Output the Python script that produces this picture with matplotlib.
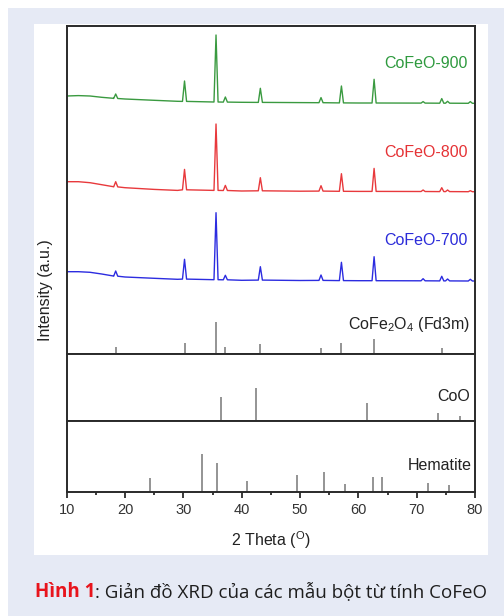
import matplotlib
matplotlib.use('Agg')
import matplotlib.pyplot as plt
from matplotlib.patches import Rectangle
import numpy as np

plt.rcParams['font.family'] = ['Liberation Sans', 'DejaVu Sans']
plt.rcParams['mathtext.fontset'] = 'custom'
plt.rcParams['mathtext.rm'] = 'Liberation Sans'
plt.rcParams['mathtext.it'] = 'Liberation Sans:italic'

# ---- data ----
samples = ['CoFeO-900', 'CoFeO-800', 'CoFeO-700']

# measured pattern: baseline vertices + peaks (relative intensity, a.u.)
base_2theta = [10, 12, 14, 16, 18, 20, 25, 29, 40, 50, 60, 80]
base_900 = [7.3, 7.7, 7.3, 6.0, 5.0, 4.3, 3.0, 2.0, 1.0, 0.7, 0.3, 0.0]
base_800 = [10.0, 10.0, 9.0, 7.0, 5.0, 4.0, 2.3, 1.3, 0.7, 0.5, 0.3, 0.0]
base_700 = [9.3, 9.3, 8.7, 7.0, 5.0, 4.0, 2.7, 1.7, 0.7, 0.5, 0.3, 0.0]

peak_2theta = [18.4, 30.2, 35.6, 37.2, 43.2, 53.6, 57.1, 62.7, 71.1, 74.3, 75.3, 79.2]
peak_foot = [4.8, 1.9, 1.3, 1.2, 0.9, 0.6, 0.4, 0.3, 0.2, 0.1, 0.1, 0.0]
top_900 = [9.3, 22.3, 68.3, 6.3, 15.0, 5.7, 17.3, 24.0, 1.7, 4.7, 2.0, 1.7]
top_800 = [10.0, 22.3, 67.7, 6.3, 14.0, 6.0, 18.0, 23.3, 1.7, 4.0, 1.7, 1.0]
top_700 = [10.0, 21.7, 68.3, 5.7, 14.3, 6.0, 18.7, 24.3, 2.3, 4.7, 2.0, 1.7]

# reference patterns (stick positions / intensities)
cfo_2theta = [18.4, 30.2, 35.6, 37.2, 43.2, 53.6, 57.1, 62.7, 74.4]
cfo_int = [7.0, 11.3, 32.3, 7.0, 10.0, 6.3, 11.0, 15.0, 6.0]
coo_2theta = [36.5, 42.45, 61.5, 73.65, 77.5]
coo_int = [24.3, 33.3, 17.7, 8.0, 5.3]
hem_2theta = [24.2, 33.2, 35.7, 40.9, 49.5, 54.1, 57.7, 62.5, 64.1, 71.9, 75.5]
hem_int = [14.3, 38.3, 29.3, 11.0, 17.3, 20.0, 8.0, 15.3, 15.0, 8.7, 7.3]

xticks = [10, 20, 30, 40, 50, 60, 70, 80]


def pattern(bx, by, px, foot, top, hw=0.35):
    pts = list(zip(bx, by))
    for p, f, t in zip(px, foot, top):
        pts += [(p - hw, f), (p, t), (p + hw, f)]
    pts.sort()
    return [a for a, b in pts], [b for a, b in pts]


W, H = 504, 616
fig = plt.figure(figsize=(W / 100, H / 100), dpi=100)
fig.patches.append(Rectangle((8 / W, 0), 496 / W, 608 / H, transform=fig.transFigure,
                             facecolor='#e6eaf5', edgecolor='none', zorder=-10))
fig.patches.append(Rectangle((34 / W, 1 - 555 / H), 454 / W, 531 / H, transform=fig.transFigure,
                             facecolor='white', edgecolor='none', zorder=-9))


def px_axes(top, bottom):
    return fig.add_axes([66.7 / W, 1 - bottom / H, (475 - 66.7) / W, (bottom - top) / H])


ax1 = px_axes(26, 354)
ax2 = px_axes(354, 421)
ax3 = px_axes(421, 492)

spine_c = '#2a2a2a'
for ax in (ax1, ax2, ax3):
    ax.set_xlim(10, 80)
    ax.set_yticks([])
    for s in ax.spines.values():
        s.set_color(spine_c)
        s.set_linewidth(1.4)

colors = ['#3a9a40', '#e8393c', '#2c2ce0']
label_colors = ['#2e9a3e', '#e53235', '#2b2bd9']
offsets = [250.7, 162.3, 73.0]
bases = [base_900, base_800, base_700]
tops = [top_900, top_800, top_700]
label_y = [64, 152.7, 240.7]

ax1.set_ylim(0, 328)
for name, c, lc, off, b, t, ly in zip(samples, colors, label_colors, offsets, bases, tops, label_y):
    x, y = pattern(base_2theta, b, peak_2theta, peak_foot, t)
    ax1.plot(x, np.array(y) + off, color=c, lw=1.0)
    fig.text(468 / W, 1 - ly / H, name, color=lc, fontsize=11.5, ha='right', va='center')

stick_c = '#777777'
ax1.vlines(cfo_2theta, 0, cfo_int, color=stick_c, lw=1.1)
ax2.set_ylim(0, 67)
ax2.vlines(coo_2theta, 0, coo_int, color=stick_c, lw=1.1)
ax3.set_ylim(0, 71)
ax3.vlines(hem_2theta, 0, hem_int, color=stick_c, lw=1.1)

fig.text(470.7 / W, 1 - 324 / H, r'CoFe$_2$O$_4$ (Fd3m)', color='#222222', fontsize=11.5,
         ha='right', va='center')
fig.text(470 / W, 1 - 396.7 / H, 'CoO', color='#222222', fontsize=11.5, ha='right', va='center')
fig.text(472 / W, 1 - 465 / H, 'Hematite', color='#222222', fontsize=11.5, ha='right', va='center')

for ax in (ax1, ax2):
    ax.set_xticks([])
ax3.set_xticks(xticks)
ax3.set_xticks(np.arange(15, 80, 10), minor=True)
ax3.tick_params(axis='x', which='major', direction='out', length=4, width=1.3,
                color=spine_c, labelsize=10.5, labelcolor='#333333', pad=4)
ax3.tick_params(axis='x', which='minor', direction='out', length=2.5, width=1.3, color=spine_c)

fig.text(270.5 / W, 1 - 540 / H, r'2 Theta ($^{\rm O}$)', color='#222222', fontsize=11.5,
         ha='center', va='center')
fig.text(45.5 / W, 1 - 290 / H, 'Intensity (a.u.)', color='#222222', fontsize=11.5,
         ha='center', va='center', rotation=90)

# caption
cap_y = 1 - 591.7 / H
cap_fs = 13.5
t1 = fig.text(35 / W, cap_y, 'Hình 1', color='#e8141c', fontsize=cap_fs, fontweight='bold',
              family=['Open Sans', 'DejaVu Sans'], ha='left', va='center')
fig.canvas.draw()
bb = t1.get_window_extent()
fig.text(bb.x1 / W, cap_y, ': Giản đồ XRD của các mẫu bột từ tính CoFeO', color='#1e1e1e',
         fontsize=cap_fs, family=['Open Sans', 'DejaVu Sans'], ha='left', va='center')

fig.savefig('out.png', dpi=100, facecolor='white')
